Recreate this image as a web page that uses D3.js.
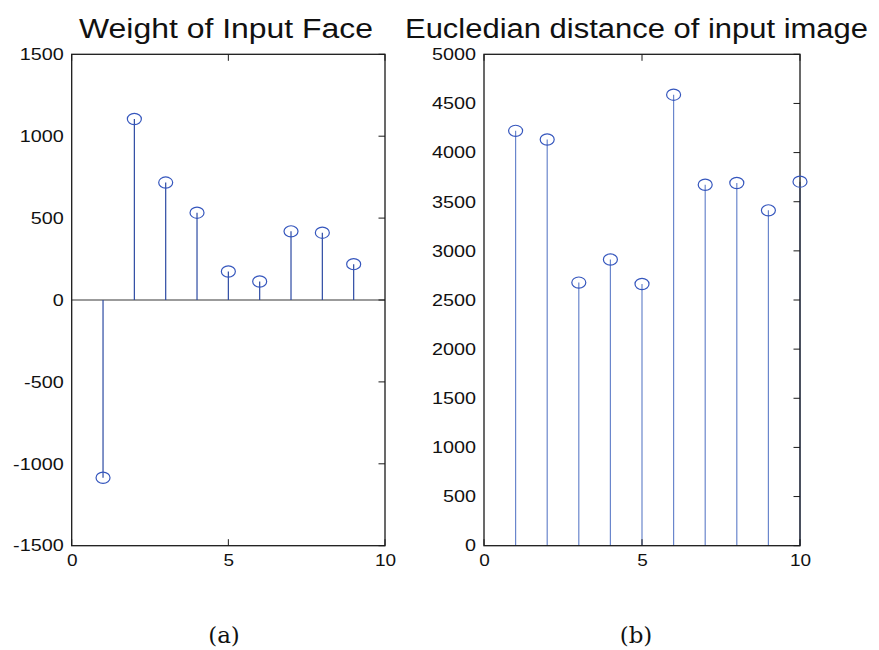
<!DOCTYPE html>
<html>
<head>
<meta charset="utf-8">
<script src="https://cdn.jsdelivr.net/npm/d3@7"></script>
<style>
  html, body { margin: 0; padding: 0; background: #fff; }
  svg { display: block; }
</style>
</head>
<body>
<div id="chart"></div>
<script>
// ---- data ----
const indexA = [1, 2, 3, 4, 5, 6, 7, 8, 9];
const weightValues = [-1085, 1105, 717, 533, 174, 113, 419, 411, 219];
const indexB = [1, 2, 3, 4, 5, 6, 7, 8, 9, 10];
const distanceValues = [4221, 4133, 2677, 2912, 2663, 4589, 3673, 3690, 3412, 3704];
const xTicks = [0, 5, 10];
const yTicksA = [-1500, -1000, -500, 0, 500, 1000, 1500];
const yTicksB = [0, 500, 1000, 1500, 2000, 2500, 3000, 3500, 4000, 4500, 5000];
const titleA = "Weight of Input Face";
const titleB = "Eucledian distance of input image";
const captionA = "(a)";
const captionB = "(b)";

const W = 879, H = 650;
const svg = d3.select("#chart").append("svg").attr("width", W).attr("height", H);

const FONT = "'Liberation Sans', Arial, Helvetica, sans-serif";
const axisColor = "#1a1a1a";
const markerColor = "#3556bd";

function panel(opts) {
  const x = d3.scaleLinear().domain([0, 10]).range([opts.left, opts.right]);
  const y = d3.scaleLinear().domain(opts.yDomain).range([opts.bottom, opts.top]);
  const g = svg.append("g");

  if (opts.baseline) {
    g.append("line")
      .attr("x1", x(0)).attr("x2", x(10))
      .attr("y1", y(0)).attr("y2", y(0))
      .attr("stroke", "#7a7a7a").attr("stroke-width", 1.6);
  }

  // stems
  g.selectAll(".stem").data(opts.xs).join("line")
    .attr("x1", (d) => x(d)).attr("x2", (d) => x(d))
    .attr("y1", y(0)).attr("y2", (d, i) => y(opts.vals[i]))
    .attr("stroke", opts.stemColor).attr("stroke-width", 1.2);

  // y axis labels
  const yAxis = d3.axisLeft(y).tickValues(opts.yTicks).tickSize(0).tickPadding(8)
    .tickFormat((d) => String(d));
  const ya = g.append("g").attr("transform", `translate(${opts.left},0)`).call(yAxis);
  ya.select(".domain").remove();
  ya.selectAll("text")
    .attr("font-family", FONT).attr("font-size", 16.5).attr("fill", "#111")
    .attr("x", 0)
    .attr("transform", "translate(-8,0) scale(1.2,1)");

  // x axis labels
  const xAxis = d3.axisBottom(x).tickValues(xTicks).tickSize(0).tickPadding(9)
    .tickFormat((d) => String(d));
  const xa = g.append("g").attr("transform", `translate(0,${opts.bottom})`).call(xAxis);
  xa.select(".domain").remove();
  xa.selectAll("text")
    .attr("font-family", FONT).attr("font-size", 16.5).attr("fill", "#111")
    .attr("x", 0)
    .attr("transform", "scale(1.15,1)");

  // inside ticks: right side for y, top and bottom for x
  const tl = 6.5;
  g.selectAll(".ytickR").data(opts.yTicks).join("line")
    .attr("x1", opts.right - tl).attr("x2", opts.right)
    .attr("y1", (d) => y(d)).attr("y2", (d) => y(d))
    .attr("stroke", axisColor).attr("stroke-width", 1);
  g.selectAll(".xtickB").data(xTicks).join("line")
    .attr("x1", (d) => x(d)).attr("x2", (d) => x(d))
    .attr("y1", opts.bottom).attr("y2", opts.bottom - tl)
    .attr("stroke", axisColor).attr("stroke-width", 1);
  g.selectAll(".xtickT").data(xTicks).join("line")
    .attr("x1", (d) => x(d)).attr("x2", (d) => x(d))
    .attr("y1", opts.top).attr("y2", opts.top + tl)
    .attr("stroke", axisColor).attr("stroke-width", 1);

  // frame
  g.append("rect")
    .attr("x", opts.left).attr("y", opts.top)
    .attr("width", opts.right - opts.left).attr("height", opts.bottom - opts.top)
    .attr("fill", "none").attr("stroke", axisColor).attr("stroke-width", 1.3);

  // markers
  g.selectAll(".mk").data(opts.xs).join("ellipse")
    .attr("cx", (d) => x(d)).attr("cy", (d, i) => y(opts.vals[i]))
    .attr("rx", 7).attr("ry", 5.6)
    .attr("fill", "none").attr("stroke", markerColor).attr("stroke-width", 1.2);

  // title
  g.append("text")
    .attr("x", opts.titleX).attr("y", 38)
    .attr("font-family", FONT).attr("font-size", 27).attr("fill", "#111")
    .attr("textLength", opts.titleLen).attr("lengthAdjust", "spacingAndGlyphs")
    .text(opts.title);

  // caption
  svg.append("text")
    .attr("x", opts.capX).attr("y", 643)
    .attr("text-anchor", "middle")
    .attr("font-family", "'DejaVu Serif', 'Liberation Serif', serif")
    .attr("font-size", 23).attr("fill", "#111")
    .text(opts.caption);
}

panel({
  left: 71.7, right: 385, top: 54.3, bottom: 545.7,
  yDomain: [-1500, 1500], yTicks: yTicksA,
  xs: indexA, vals: weightValues,
  stemColor: "#2c4aa3", baseline: true,
  title: titleA, titleX: 79, titleLen: 294,
  caption: captionA, capX: 224
});

panel({
  left: 484, right: 800, top: 54.3, bottom: 545.7,
  yDomain: [0, 5000], yTicks: yTicksB,
  xs: indexB, vals: distanceValues,
  stemColor: "#6a86cc", baseline: false,
  title: titleB, titleX: 405, titleLen: 463,
  caption: captionB, capX: 636
});
</script>
</body>
</html>
